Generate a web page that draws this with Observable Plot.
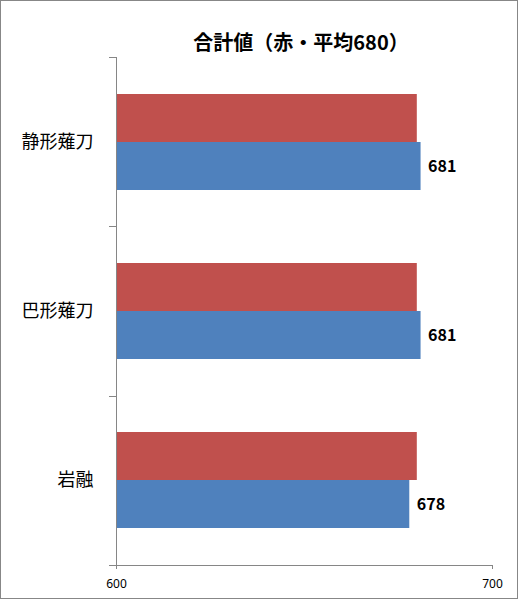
<!DOCTYPE html>
<html>
<head>
<meta charset="utf-8">
<script src="https://cdn.jsdelivr.net/npm/d3@7"></script>
<script src="https://cdn.jsdelivr.net/npm/@observablehq/plot@0.6"></script>
<style>
  html, body { margin: 0; padding: 0; background: #fff; }
  #chart {
    position: relative;
    width: 516px; height: 597px;
    border: 1px solid #878787;
    background: #fff;
    font-family: 'Noto Sans CJK JP', sans-serif;
  }
  #title {
    height: 55px;
    box-sizing: border-box;
    padding-top: 30px;
    padding-left: 84px;
    text-align: center;
    font-size: 20px;
    line-height: 21px;
    font-weight: bold;
    color: #000;
  }
  svg { display: block; }
</style>
</head>
<body>
<div id="chart"><div id="title"></div></div>
<script>
const title = "合計値（赤・平均680）";
const categories = ["静形薙刀", "巴形薙刀", "岩融"];
const redValues = [680, 680, 680];
const blueValues = [681, 681, 678];
const xTicks = [600, 700];

const red = categories.map((c, i) => ({category: c, value: redValues[i]}));
const blue = categories.map((c, i) => ({category: c, value: blueValues[i]}));

document.getElementById("title").textContent = title;

const axisColor = "#868686";

const plot = Plot.plot({
  width: 516,
  height: 541,
  marginLeft: 115,
  marginRight: 25,
  marginTop: 1,
  marginBottom: 32,
  style: {fontFamily: "'Noto Sans CJK JP', sans-serif", fontSize: "12px", color: "#000", background: "#fff"},
  x: {domain: [600, 700], clamp: true},
  y: {domain: categories, paddingInner: 0.431, paddingOuter: 0.2155, align: 0.5},
  marks: [
    Plot.barX(red, {x: "value", y: "category", fill: "#C0504D", insetBottom: 48}),
    Plot.barX(blue, {x: "value", y: "category", fill: "#4F81BD", insetTop: 48}),
    Plot.text(blue, {x: "value", y: "category", text: d => String(d.value), dy: 24, dx: 7,
      textAnchor: "start", fontWeight: "bold", fontSize: 16, fill: "#000"}),
    Plot.ruleX([600], {stroke: axisColor}),
    Plot.axisX({ticks: xTicks, tickSize: 4, tickPadding: 10, stroke: axisColor, fill: "#000",
      fontFamily: "'Noto Sans', sans-serif", fontSize: 12, label: null}),
    Plot.axisY({tickSize: 0, tickPadding: 23, fontSize: 18, fill: "#000", label: null})
  ]
});

// axis line along the bottom and category boundary ticks, placed from the plot's scales
const xs = plot.scale("x");
const ys = plot.scale("y");
const x0 = xs.range[0], x1 = xs.range[1];
const yTop = ys.range[0], yBot = ys.range[1];
const step = (yBot - yTop) / categories.length;
const svg = d3.select(plot);
svg.append("line")
  .attr("x1", x0 - 7).attr("x2", x1 + 0.5)
  .attr("y1", yBot + 0.5).attr("y2", yBot + 0.5)
  .attr("stroke", axisColor);
for (let i = 0; i < categories.length; i++) {
  const yy = Math.round(yTop + i * step) + 0.5;
  svg.append("line")
    .attr("x1", x0 - 7).attr("x2", x0)
    .attr("y1", yy).attr("y2", yy)
    .attr("stroke", axisColor);
}
document.getElementById("chart").appendChild(plot);
</script>
</body>
</html>
